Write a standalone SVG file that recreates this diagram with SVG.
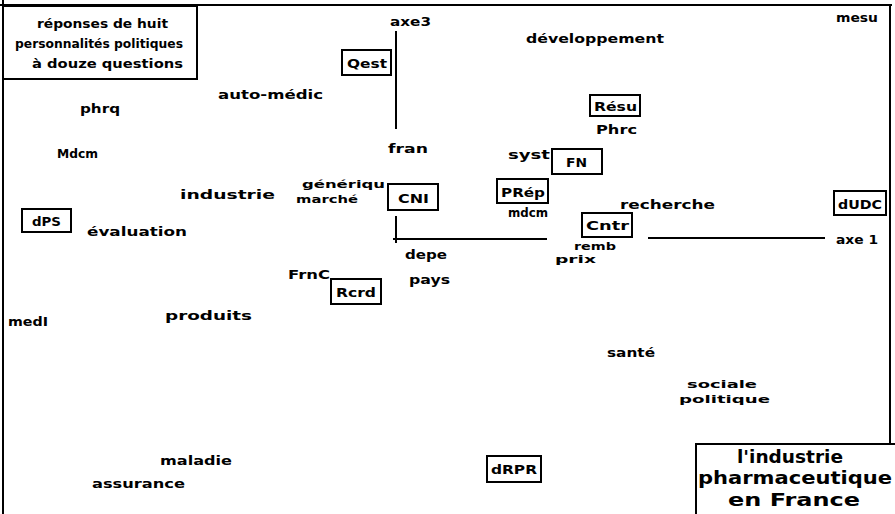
<svg xmlns="http://www.w3.org/2000/svg" width="895" height="514" viewBox="0 0 895 514">
<style>
.t{font-family:"DejaVu Sans","Liberation Sans",sans-serif;font-weight:bold;font-size:13px;fill:#000}
.s{font-family:"DejaVu Sans","Liberation Sans",sans-serif;font-weight:bold;font-size:11px;fill:#000}
.h{font-family:"DejaVu Sans","Liberation Sans",sans-serif;font-weight:bold;font-size:13px;fill:#000}
.big{font-family:"DejaVu Sans","Liberation Sans",sans-serif;font-weight:bold;font-size:18px;fill:#000;text-anchor:middle}
.box{fill:#fff;stroke:#000;stroke-width:2}
.ln{stroke:#000;stroke-width:2;fill:none}
</style>
<rect width="895" height="514" fill="#fff"/>
<g id="frame">
<line class="ln" x1="0" y1="5" x2="892" y2="5"/>
<line class="ln" x1="3" y1="0" x2="3" y2="514"/>
<line class="ln" x1="890" y1="5" x2="890" y2="444"/>
</g>
<g id="connectors">
<line class="ln" x1="396" y1="31" x2="396" y2="129"/>
<line class="ln" x1="396" y1="216" x2="396" y2="243"/>
<line class="ln" x1="393" y1="239" x2="547" y2="239"/>
<line class="ln" x1="648" y1="238" x2="825" y2="238"/>
</g>
<g id="legend">
<rect class="box" x="3" y="6" width="194" height="73"/>
<text class="h" x="37" y="28" textLength="131" lengthAdjust="spacingAndGlyphs">réponses de huit</text>
<text class="h" x="15" y="48" textLength="168" lengthAdjust="spacingAndGlyphs">personnalités politiques</text>
<text class="h" x="32" y="68" textLength="151" lengthAdjust="spacingAndGlyphs">à douze questions</text>
</g>
<g id="title">
<rect class="box" x="696" y="444" width="202" height="74"/>
<text class="big" x="790" y="463" textLength="106" lengthAdjust="spacingAndGlyphs">l'industrie</text>
<text class="big" x="795" y="484" textLength="194" lengthAdjust="spacingAndGlyphs">pharmaceutique</text>
<text class="big" x="794" y="506" textLength="132" lengthAdjust="spacingAndGlyphs">en France</text>
</g>
<g id="axe3"><text class="t" x="390" y="26" textLength="41" lengthAdjust="spacingAndGlyphs">axe3</text></g>
<g id="axe1"><text class="t" x="836" y="244" textLength="42" lengthAdjust="spacingAndGlyphs">axe 1</text></g>
<g id="mesu"><text class="t" x="836" y="22" textLength="42" lengthAdjust="spacingAndGlyphs">mesu</text></g>
<g id="developpement"><text class="t" x="526" y="43" textLength="138" lengthAdjust="spacingAndGlyphs">développement</text></g>
<g id="Qest"><rect class="box" x="342" y="50" width="49" height="25"/><text class="t" x="347" y="68" textLength="40" lengthAdjust="spacingAndGlyphs">Qest</text></g>
<g id="auto-medic"><text class="t" x="218" y="99" textLength="105" lengthAdjust="spacingAndGlyphs">auto-médic</text></g>
<g id="phrq"><text class="t" x="80" y="113" textLength="40" lengthAdjust="spacingAndGlyphs">phrq</text></g>
<g id="Resu"><rect class="box" x="590" y="95" width="50" height="21"/><text class="t" x="594" y="111" textLength="43" lengthAdjust="spacingAndGlyphs">Résu</text></g>
<g id="Phrc"><text class="t" x="596" y="134" textLength="41" lengthAdjust="spacingAndGlyphs">Phrc</text></g>
<g id="Mdcm"><text class="t" x="57" y="158" textLength="41" lengthAdjust="spacingAndGlyphs">Mdcm</text></g>
<g id="fran"><text class="t" x="388" y="153" textLength="40" lengthAdjust="spacingAndGlyphs">fran</text></g>
<g id="syst"><text class="t" x="508" y="159" textLength="42" lengthAdjust="spacingAndGlyphs">syst</text></g>
<g id="FN"><rect class="box" x="552" y="149" width="50" height="25"/><text class="t" x="566" y="167" textLength="21" lengthAdjust="spacingAndGlyphs">FN</text></g>
<g id="industrie"><text class="t" x="180" y="199" textLength="95" lengthAdjust="spacingAndGlyphs">industrie</text></g>
<g id="generique"><text class="s" x="302" y="188" textLength="83" lengthAdjust="spacingAndGlyphs">génériqu</text></g>
<g id="marche"><text class="s" x="296" y="203" textLength="62" lengthAdjust="spacingAndGlyphs">marché</text></g>
<g id="CNI"><rect class="box" x="388" y="184" width="50" height="26"/><text class="t" x="398" y="203" textLength="31" lengthAdjust="spacingAndGlyphs">CNI</text></g>
<g id="PRep"><rect class="box" x="497" y="179" width="51" height="24"/><text class="t" x="501" y="197" textLength="44" lengthAdjust="spacingAndGlyphs">PRép</text></g>
<g id="mdcm"><text class="t" x="508" y="217" textLength="40" lengthAdjust="spacingAndGlyphs">mdcm</text></g>
<g id="recherche"><text class="t" x="620" y="209" textLength="95" lengthAdjust="spacingAndGlyphs">recherche</text></g>
<g id="dUDC"><rect class="box" x="834" y="191" width="52" height="24"/><text class="t" x="838" y="209" textLength="44" lengthAdjust="spacingAndGlyphs">dUDC</text></g>
<g id="dPS"><rect class="box" x="22" y="209" width="49" height="23"/><text class="t" x="32" y="226" textLength="29" lengthAdjust="spacingAndGlyphs">dPS</text></g>
<g id="evaluation"><text class="t" x="87" y="236" textLength="100" lengthAdjust="spacingAndGlyphs">évaluation</text></g>
<g id="Cntr"><rect class="box" x="582" y="213" width="50" height="24"/><text class="t" x="586" y="230" textLength="43" lengthAdjust="spacingAndGlyphs">Cntr</text></g>
<g id="remb"><text class="s" x="574" y="250" textLength="42" lengthAdjust="spacingAndGlyphs">remb</text></g>
<g id="prix"><text class="s" x="555" y="263" textLength="41" lengthAdjust="spacingAndGlyphs">prix</text></g>
<g id="depe"><text class="t" x="405" y="259" textLength="42" lengthAdjust="spacingAndGlyphs">depe</text></g>
<g id="FrnC"><text class="t" x="288" y="279" textLength="42" lengthAdjust="spacingAndGlyphs">FrnC</text></g>
<g id="Rcrd"><rect class="box" x="331" y="279" width="50" height="25"/><text class="t" x="336" y="297" textLength="40" lengthAdjust="spacingAndGlyphs">Rcrd</text></g>
<g id="pays"><text class="t" x="409" y="284" textLength="41" lengthAdjust="spacingAndGlyphs">pays</text></g>
<g id="produits"><text class="t" x="165" y="320" textLength="87" lengthAdjust="spacingAndGlyphs">produits</text></g>
<g id="medI"><text class="t" x="8" y="326" textLength="40" lengthAdjust="spacingAndGlyphs">medI</text></g>
<g id="sante"><text class="t" x="607" y="357" textLength="48" lengthAdjust="spacingAndGlyphs">santé</text></g>
<g id="sociale"><text class="s" x="687" y="388" textLength="70" lengthAdjust="spacingAndGlyphs">sociale</text></g>
<g id="politique"><text class="s" x="679" y="403" textLength="91" lengthAdjust="spacingAndGlyphs">politique</text></g>
<g id="maladie"><text class="t" x="160" y="465" textLength="72" lengthAdjust="spacingAndGlyphs">maladie</text></g>
<g id="assurance"><text class="t" x="92" y="488" textLength="93" lengthAdjust="spacingAndGlyphs">assurance</text></g>
<g id="dRPR"><rect class="box" x="487" y="456" width="54" height="26"/><text class="t" x="491" y="474" textLength="46" lengthAdjust="spacingAndGlyphs">dRPR</text></g>
</svg>
